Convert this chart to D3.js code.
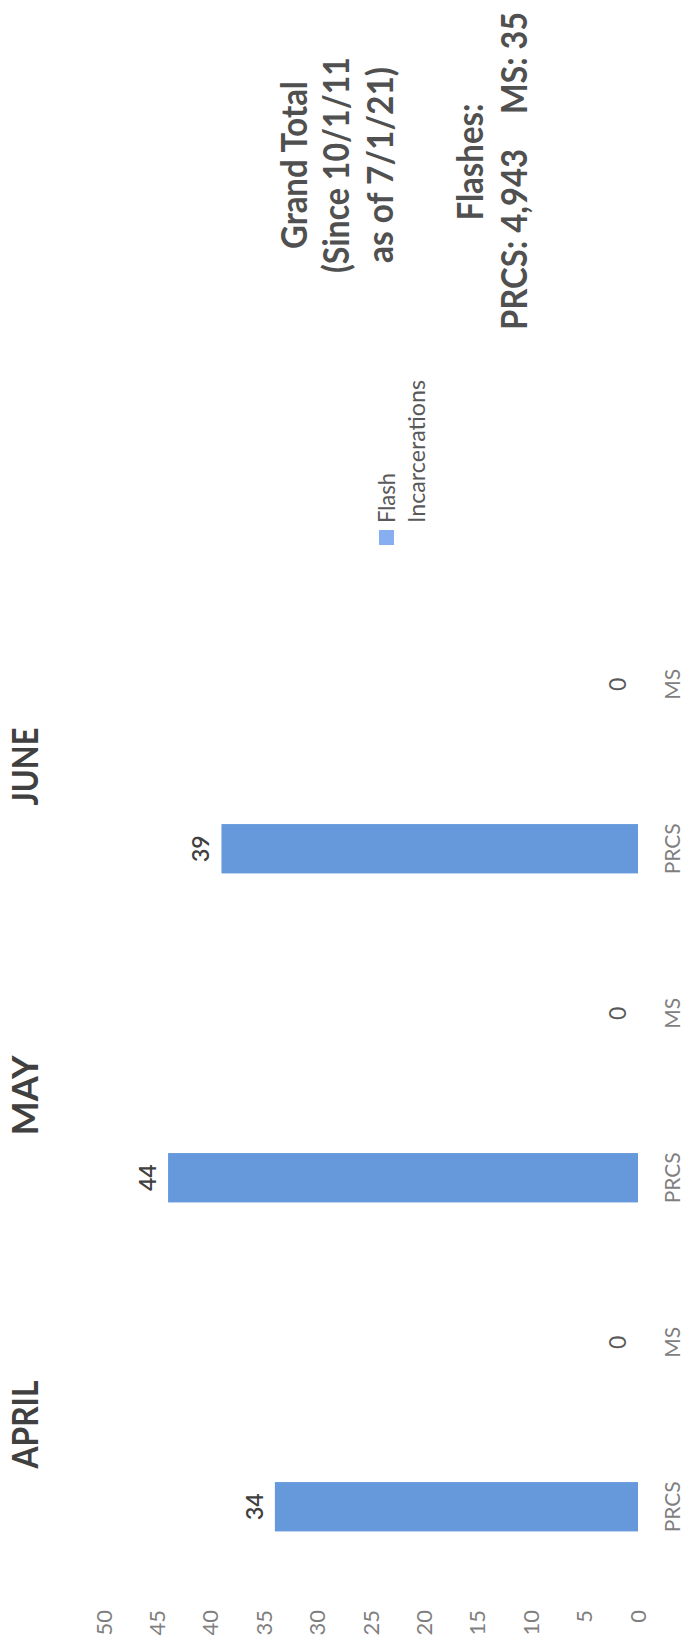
<!DOCTYPE html>
<html><head><meta charset="utf-8">
<script src="https://cdn.jsdelivr.net/npm/d3@7"></script>
<style>html,body{margin:0;padding:0;background:#fff}</style>
</head><body>
<svg id="c" width="695" height="1648"></svg>
<script>
// ---- data ----
const categories = ["PRCS", "MS", "PRCS", "MS", "PRCS", "MS"];
const months = ["APRIL", "MAY", "JUNE"];
const values = [34, 0, 44, 0, 39, 0];
const tickValues = [0, 5, 10, 15, 20, 25, 30, 35, 40, 45, 50];
const legendLines = ["Flash", "Incarcerations"];
const totalLines = ["Grand Total", "(Since 10/1/11", "as of 7/1/21)"];
const flashesLabel = "Flashes:";
const totalPRCS = "PRCS: 4,943";
const totalMS = "MS: 35";

// ---- layout (chart drawn in landscape, then rotated 90deg CCW) ----
const W = 1648, H = 695;
const svg = d3.select("#c");
const g = svg.append("g").attr("transform", `translate(0,${W}) rotate(-90)`);

const x = d3.scaleBand().domain(d3.range(categories.length))
  .range([59, 1046]).paddingInner(0.7).paddingOuter(0.35);
const y = d3.scaleLinear().domain([0, 50]).range([638, 104]);

const FONT = "Lato, 'Open Sans', sans-serif";

// value axis
const axis = g.append("g").attr("transform", "translate(38,0)")
  .call(d3.axisLeft(y).tickValues(tickValues).tickSize(0).tickPadding(0));
axis.select(".domain").remove();
axis.selectAll("text").attr("font-family", FONT).attr("font-size", 22)
  .attr("fill", "#7f7f7f");

// bars
g.selectAll("rect.bar").data(values).join("rect").attr("class", "bar")
  .attr("x", (d, i) => x(i)).attr("width", x.bandwidth())
  .attr("y", d => y(d)).attr("height", d => y(0) - y(d))
  .attr("fill", "#6698dc");

// value labels
g.selectAll("text.val").data(values).join("text").attr("class", "val")
  .attr("x", (d, i) => x(i) + x.bandwidth() / 2)
  .attr("y", d => y(d) - 12)
  .attr("text-anchor", "middle").attr("font-family", FONT)
  .attr("font-size", 23).attr("font-weight", d => d > 0 ? 600 : 400)
  .attr("fill", d => d > 0 ? "#404040" : "#595959")
  .text(d => d);

// category labels
g.selectAll("text.cat").data(categories).join("text").attr("class", "cat")
  .attr("x", (d, i) => x(i) + x.bandwidth() / 2)
  .attr("y", 680)
  .attr("text-anchor", "middle").attr("font-family", FONT)
  .attr("font-size", 21).attr("fill", "#7f7f7f")
  .text(d => d);

// month titles
const monthLen = [88, 80, 78];
g.selectAll("text.month").data(months).join("text").attr("class", "month")
  .attr("x", (d, i) => (x(2 * i) + x(2 * i + 1) + x.bandwidth()) / 2)
  .attr("y", 38)
  .attr("text-anchor", "middle").attr("font-family", FONT)
  .attr("font-size", 36).attr("font-weight", 700).attr("fill", "#404040")
  .attr("textLength", (d, i) => monthLen[i]).attr("lengthAdjust", "spacingAndGlyphs")
  .text(d => d);

// legend
g.append("rect").attr("x", 1103).attr("y", 379).attr("width", 15).attr("height", 15)
  .attr("fill", "#86aef0");
const legLen = [50, 143];
g.selectAll("text.leg").data(legendLines).join("text").attr("class", "leg")
  .attr("x", 1125).attr("y", (d, i) => 395 + i * 30)
  .attr("font-family", FONT).attr("font-size", 23).attr("fill", "#595959")
  .attr("textLength", (d, i) => legLen[i]).attr("lengthAdjust", "spacingAndGlyphs")
  .text(d => d);

// grand total block
const totLen = [168, 216, 196];
const totY = [307, 349, 393];
g.selectAll("text.tot").data(totalLines).join("text").attr("class", "tot")
  .attr("x", 1483).attr("y", (d, i) => totY[i])
  .attr("text-anchor", "middle").attr("font-family", FONT)
  .attr("font-size", 36).attr("font-weight", 700).attr("fill", "#505050")
  .attr("textLength", (d, i) => totLen[i]).attr("lengthAdjust", "spacingAndGlyphs")
  .text(d => d);
g.append("text").attr("x", 1486).attr("y", 483).attr("text-anchor", "middle")
  .attr("font-family", FONT).attr("font-size", 36).attr("font-weight", 700)
  .attr("fill", "#505050").attr("textLength", 117).attr("lengthAdjust", "spacingAndGlyphs")
  .text(flashesLabel);
g.append("text").attr("x", 1318).attr("y", 527)
  .attr("font-family", FONT).attr("font-size", 36).attr("font-weight", 700)
  .attr("fill", "#505050").attr("textLength", 181).attr("lengthAdjust", "spacingAndGlyphs")
  .text(totalPRCS);
g.append("text").attr("x", 1534).attr("y", 527)
  .attr("font-family", FONT).attr("font-size", 36).attr("font-weight", 700)
  .attr("fill", "#505050").attr("textLength", 102).attr("lengthAdjust", "spacingAndGlyphs")
  .text(totalMS);
</script>
</body></html>
